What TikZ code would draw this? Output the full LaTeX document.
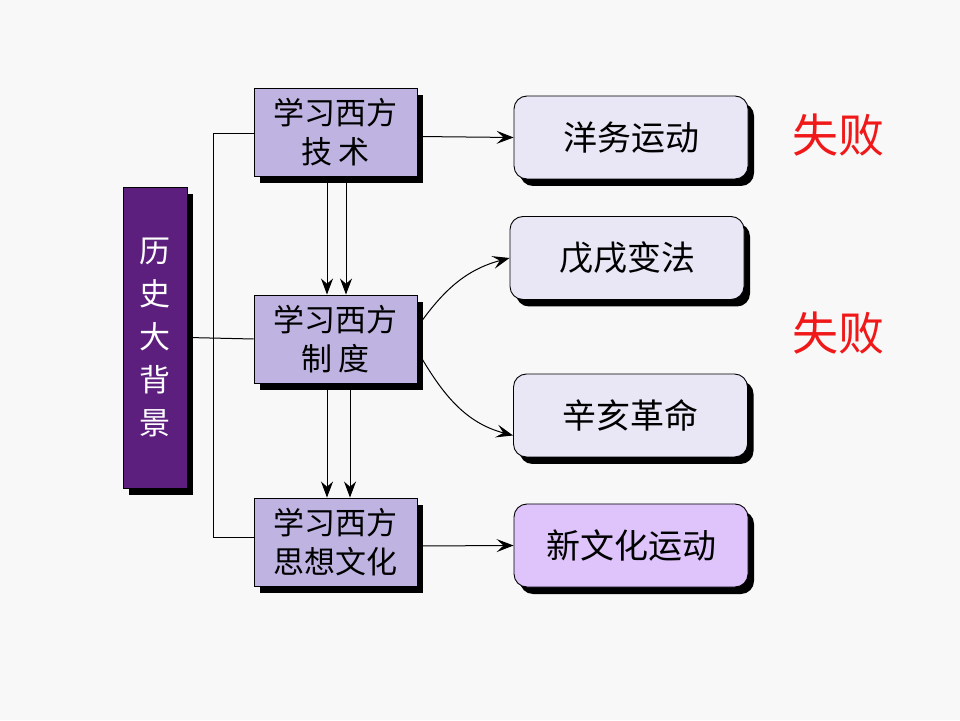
\documentclass[tikz,border=0pt]{standalone}
\usepackage{fontspec}
\newfontfamily\cjk{Noto Sans CJK SC}
\usetikzlibrary{shadows,arrows.meta}
\definecolor{bgc}{HTML}{F8F8F8}
\definecolor{darkpurple}{HTML}{5C1F7E}
\definecolor{boxlav}{HTML}{BFB3E1}
\definecolor{lightlav}{HTML}{E9E7F6}
\definecolor{pinklav}{HTML}{DEC4FB}
\definecolor{failred}{HTML}{F01818}
\tikzset{
  shd/.style={drop shadow={shadow xshift=6pt,shadow yshift=-7pt,fill=black,opacity=1}},
  mainbox/.style={draw=black,line width=0.9pt,fill=boxlav,shd,minimum width=163pt,minimum height=88pt,
    align=center,font=\cjk\fontsize{31}{39}\selectfont,inner sep=0pt},
  sidebox/.style={draw=black,line width=0.9pt,fill=darkpurple,shd,minimum width=64pt,minimum height=301pt,
    align=center,text=white,font=\cjk\fontsize{31}{43}\selectfont,inner sep=0pt},
  resbox/.style={draw=black,line width=0.9pt,fill=lightlav,shd,rounded corners=13pt,minimum width=234pt,
    minimum height=83pt,font=\cjk\fontsize{34}{38}\selectfont,inner sep=0pt},
  failtxt/.style={text=failred,font=\cjk\fontsize{46}{50}\selectfont,inner sep=0pt},
  conn/.style={line width=1pt,black},
  dbl/.style={conn,-{Stealth[length=16pt,width=12pt]}},
  arr/.style={conn,-{Stealth[length=17pt,width=13pt,inset=7pt]}}
}
\begin{document}
\begin{tikzpicture}[x=1pt,y=1pt]
\fill[bgc] (0,0) rectangle (960,720);
\useasboundingbox (0,0) rectangle (960,720);

\node[sidebox] (bg) at (155,382.5) {历\\史\\大\\背\\景};
\node[mainbox] (b1) at (335.5,587.5) {学习西方\\技 术};
\node[mainbox] (b2) at (335.5,381) {学习西方\\制 度};
\node[mainbox] (b3) at (335.5,178) {学习西方\\思想文化};

\node[resbox] (yw) at (631,582.5) {洋务运动};
\node[resbox] (wx) at (627,462) {戊戌变法};
\node[resbox] (xh) at (630.5,304.5) {辛亥革命};
\node[resbox,fill=pinklav] (xw) at (631,174.5) {新文化运动};

\node[failtxt] (f1) at (838,585) {失败};
\node[failtxt] (f2) at (838,387) {失败};

\coordinate (bx) at (213,0);
\draw[conn] ([yshift=-1.5]b1.west) -- ([yshift=-1.5]b1.west -| bx) -- ([yshift=4]b3.west -| bx) -- ([yshift=4]b3.west);
\draw[conn] (bg.east) -- (b2.west);

\draw[dbl] ([xshift=-8.5]b1.south) -- ([xshift=-8.5]b2.north);
\draw[dbl] ([xshift=10.5]b1.south) -- ([xshift=10.5]b2.north);
\draw[dbl] ([xshift=-8.5]b2.south) -- ([xshift=-8.5]b3.north);
\draw[dbl] ([xshift=14.5]b2.south) -- ([xshift=14.5]b3.north);

\draw[arr] ([yshift=-4]b1.east) -- (yw.west);
\draw[arr] ([yshift=-4]b3.east) -- (xw.west);
\draw[arr] ([yshift=12]b2.east) to[out=55,in=195] (wx.west);
\draw[arr] ([yshift=-12]b2.east) to[out=-60,in=165] ([yshift=-20]xh.west);
\end{tikzpicture}
\end{document}
